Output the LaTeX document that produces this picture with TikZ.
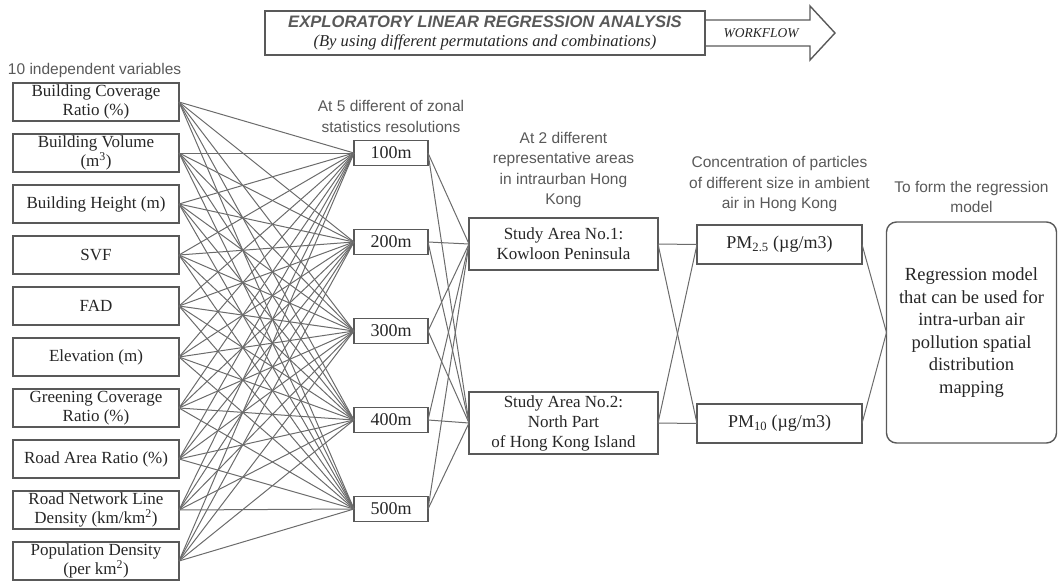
\documentclass[tikz,border=0pt]{standalone}
\usepackage{fontspec}
\setmainfont{Liberation Serif}
\setsansfont{Liberation Sans}
\usetikzlibrary{positioning, calc}

\begin{document}
\begin{tikzpicture}[
    x=1pt, y=-1pt,
    every node/.style={align=center, inner sep=1pt, outer sep=0pt, text=black!85},
    varbox/.style={rectangle, draw=black!65, line width=1.4pt, inner ysep=0pt, minimum width=166pt, minimum height=38pt, font=\fontsize{17}{18.5}\selectfont},
    resbox/.style={rectangle, draw=black!65, line width=1.4pt, minimum width=74pt, minimum height=25pt, font=\fontsize{18}{20}\selectfont},
    areabox/.style={rectangle, draw=black!65, line width=1.4pt, minimum width=189pt, font=\fontsize{17}{20}\selectfont},
    pmbox/.style={rectangle, draw=black!65, line width=1.4pt, minimum width=165pt, minimum height=39pt, font=\fontsize{18}{20}\selectfont},
    modelbox/.style={rectangle, rounded corners=10pt, draw=black!65, line width=1.4pt, minimum width=170pt, minimum height=221pt, font=\fontsize{18.5}{22.5}\selectfont},
    titlebox/.style={rectangle, draw=black!65, line width=1.4pt, minimum width=440pt, minimum height=44pt, font=\fontsize{16.6}{18.5}\selectfont},
    caption/.style={font=\sffamily\fontsize{15.5}{20.5}\selectfont, text=black!65},
    link/.style={draw=black!58, line width=1pt}
]
\useasboundingbox (0,0) rectangle (1058,581);

% Heading and workflow arrow
\node[titlebox] (title) at (485,33) {{\sffamily\bfseries\itshape\color{black!65}EXPLORATORY LINEAR REGRESSION ANALYSIS}\\{\itshape (By using different permutations and combinations)}};
\draw[draw=black!65, line width=1.4pt, line join=miter] ($(title.east)+(0,-13)$) -- ++(105,0) -- ++(0,-14) -- ++(25,27) -- ++(-25,27) -- ++(0,-14) -- ++(-105,0);
\node[font=\fontsize{13.5}{15}\selectfont\itshape] (flow) at ($(title.east)+(56,0)$) {WORKFLOW};

% Independent variables
\node[caption, anchor=west] (varlabel) at (7,70) {10 independent variables};
\node[varbox] (var1) at (96,102) {Building Coverage\\Ratio (\%)};
\node[varbox, below=13pt of var1] (var2) {Building Volume\\(m\textsuperscript{3})};
\node[varbox, below=13pt of var2] (var3) {Building Height (m)};
\node[varbox, below=13pt of var3] (var4) {SVF};
\node[varbox, below=13pt of var4] (var5) {FAD};
\node[varbox, below=13pt of var5] (var6) {Elevation (m)};
\node[varbox, below=13pt of var6] (var7) {Greening Coverage\\Ratio (\%)};
\node[varbox, below=13pt of var7] (var8) {Road Area Ratio (\%)};
\node[varbox, below=13pt of var8] (var9) {Road Network Line\\Density (km/km\textsuperscript{2})};
\node[varbox, below=13pt of var9] (var10) {Population Density\\(per km\textsuperscript{2})};

% Zonal statistics resolutions
\node[resbox] (res1) at (391,153) {100m};
\node[resbox, below=64pt of res1] (res2) {200m};
\node[resbox, below=64pt of res2] (res3) {300m};
\node[resbox, below=64pt of res3] (res4) {400m};
\node[resbox, below=64pt of res4] (res5) {500m};
\node[caption, above=7pt of res1] (reslabel) {At 5 different of zonal\\statistics resolutions};

% Study areas
\node[areabox, minimum height=52pt] (area1) at (563.5,244) {Study Area No.1:\\Kowloon Peninsula};
\node[areabox, minimum height=62pt, below=122pt of area1] (area2) {Study Area No.2:\\North Part\\of Hong Kong Island};
\node[caption, above=9pt of area1] (arealabel) {At 2 different\\representative areas\\in intraurban Hong\\Kong};

% Particle sizes
\node[pmbox] (pm25) at (779.5,244.5) {PM\textsubscript{2.5} (µg/m3)};
\node[pmbox, below=140pt of pm25] (pm10) {PM\textsubscript{10} (µg/m3)};
\node[caption, above=12pt of pm25] (pmlabel) {Concentration of particles\\of different size in ambient\\air in Hong Kong};

% Regression model
\node[modelbox] (model) at (971.5,332.5) {Regression model\\that can be used for\\intra-urban air\\pollution spatial\\distribution\\mapping};
\node[caption, above=8pt of model] (modellabel) {To form the regression\\model};

% Connectors
\foreach \v in {1,...,10}
  \foreach \r in {1,...,5}
    \draw[link] (var\v.east) -- (res\r.west);
\foreach \r in {1,...,5}
  \foreach \a in {1,2}
    \draw[link] (res\r.east) -- (area\a.west);
\foreach \a in {1,2}
  \foreach \p in {pm25,pm10}
    \draw[link] (area\a.east) -- (\p.west);
\draw[link] (pm25.east) -- (model.west);
\draw[link] (pm10.east) -- (model.west);

\end{tikzpicture}
\end{document}
